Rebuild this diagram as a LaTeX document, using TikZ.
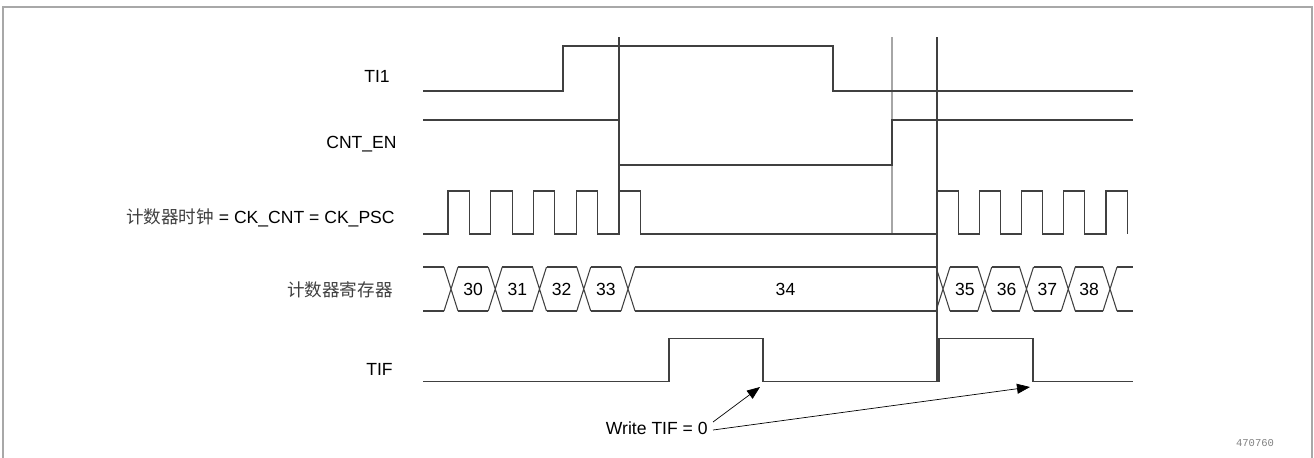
\documentclass[tikz,border=0pt]{standalone}
\usepackage{fontspec}
\setmainfont{Liberation Sans}
\newfontfamily\cjk{Noto Sans CJK SC}
\newfontfamily\monofnt{Liberation Mono}
\usetikzlibrary{arrows.meta}
\definecolor{wavegray}{HTML}{404040}
\definecolor{framegray}{HTML}{A8A8A8}
\tikzset{
  wave/.style={draw=wavegray, line width=0.6pt},
  siglabel/.style={anchor=base east, inner sep=0pt, font=\fontsize{10}{12}\selectfont},
  busval/.style={inner sep=0pt, font=\fontsize{10}{12}\selectfont},
  callout/.style={-{Triangle[length=0.26cm,width=0.2cm]}, line width=0.4pt},
}
\begin{document}
\begin{tikzpicture}[x=0.02cm, y=-0.02cm]
  \useasboundingbox (0,0) rectangle (1314,457);
  \draw[framegray, line width=0.8pt] (3,460) -- (3,7) -- (1312,7) -- (1312,460);

  \node[siglabel] (ti1) at (390,82) {TI1};
  \node[siglabel] (cnten) at (397,148) {CNT\_EN};
  \node[siglabel] (ckcnt) at (395,223) {{\cjk\color{black!75}计数器时钟} = CK\_CNT = CK\_PSC};
  \node[siglabel, text=black!75] (cntreg) at (393,296) {\cjk 计数器寄存器};
  \node[siglabel] (tif) at (393,375) {TIF};

  \draw[wave] (619,37) -- (619,215);
  \draw[wave, draw=gray!70] (892,37) -- (892,234);
  \draw[wave] (937,37) -- (937,382);

  \draw[wave] (423,91) -- (563,91) -- (563,46) -- (833,46) -- (833,91) -- (1133,91);
  \draw[wave] (423,120) -- (619,120) -- (619,165) -- (892,165) -- (892,120) -- (1133,120);

  \draw[wave] (423,234)
    \foreach \i in {0,...,4} { -- ({448+42.75*\i},234) -- ++(0,-43) -- ++(21.4,0) -- ++(0,43) }
    -- (937,234)
    \foreach \i in {0,...,4} { -- ({937+42.25*\i},234) -- ++(0,-43) -- ++(21.1,0) -- ++(0,43) };

  \foreach \c in {451,495.25,539.5,583.75,628,943,984.75,1026.5,1068.25,1110}
    \draw[wave] (\c-7,267) -- (\c+7,311) (\c-7,311) -- (\c+7,267);
  \foreach \a/\b in {423/444,458/488.25,502.25/532.5,546.5/576.75,590.75/621,635/936,950/977.75,991.75/1019.5,1033.5/1061.25,1075.25/1103,1117/1133}
    \draw[wave] (\a,267) -- (\b,267) (\a,311) -- (\b,311);
  \foreach \x/\v in {473.1/30,517.4/31,561.6/32,605.9/33,785.5/34,964.9/35,1006.6/36,1047.4/37,1089.1/38}
    \node[busval] (v\v) at (\x,289) {\v};

  \draw[wave] (423,381.5) -- (669,381.5) -- (669,338.5) -- (763,338.5) -- (763,381.5)
    -- (939,381.5) -- (939,338.5) -- (1033,338.5) -- (1033,381.5) -- (1133,381.5);

  \node[siglabel] (wr) at (708,434) {Write TIF = 0};
  \coordinate (tip1) at (760,387);
  \coordinate (tip2) at (1030,387);
  \draw[callout] ([shift={(5,-12)}]wr.base east) -- (tip1);
  \draw[callout] ([shift={(5,-4)}]wr.base east) -- (tip2);

  \node[font=\monofnt\fontsize{6}{7}\selectfont, text=gray] (figid) at (1255,443) {470760};
\end{tikzpicture}
\end{document}
